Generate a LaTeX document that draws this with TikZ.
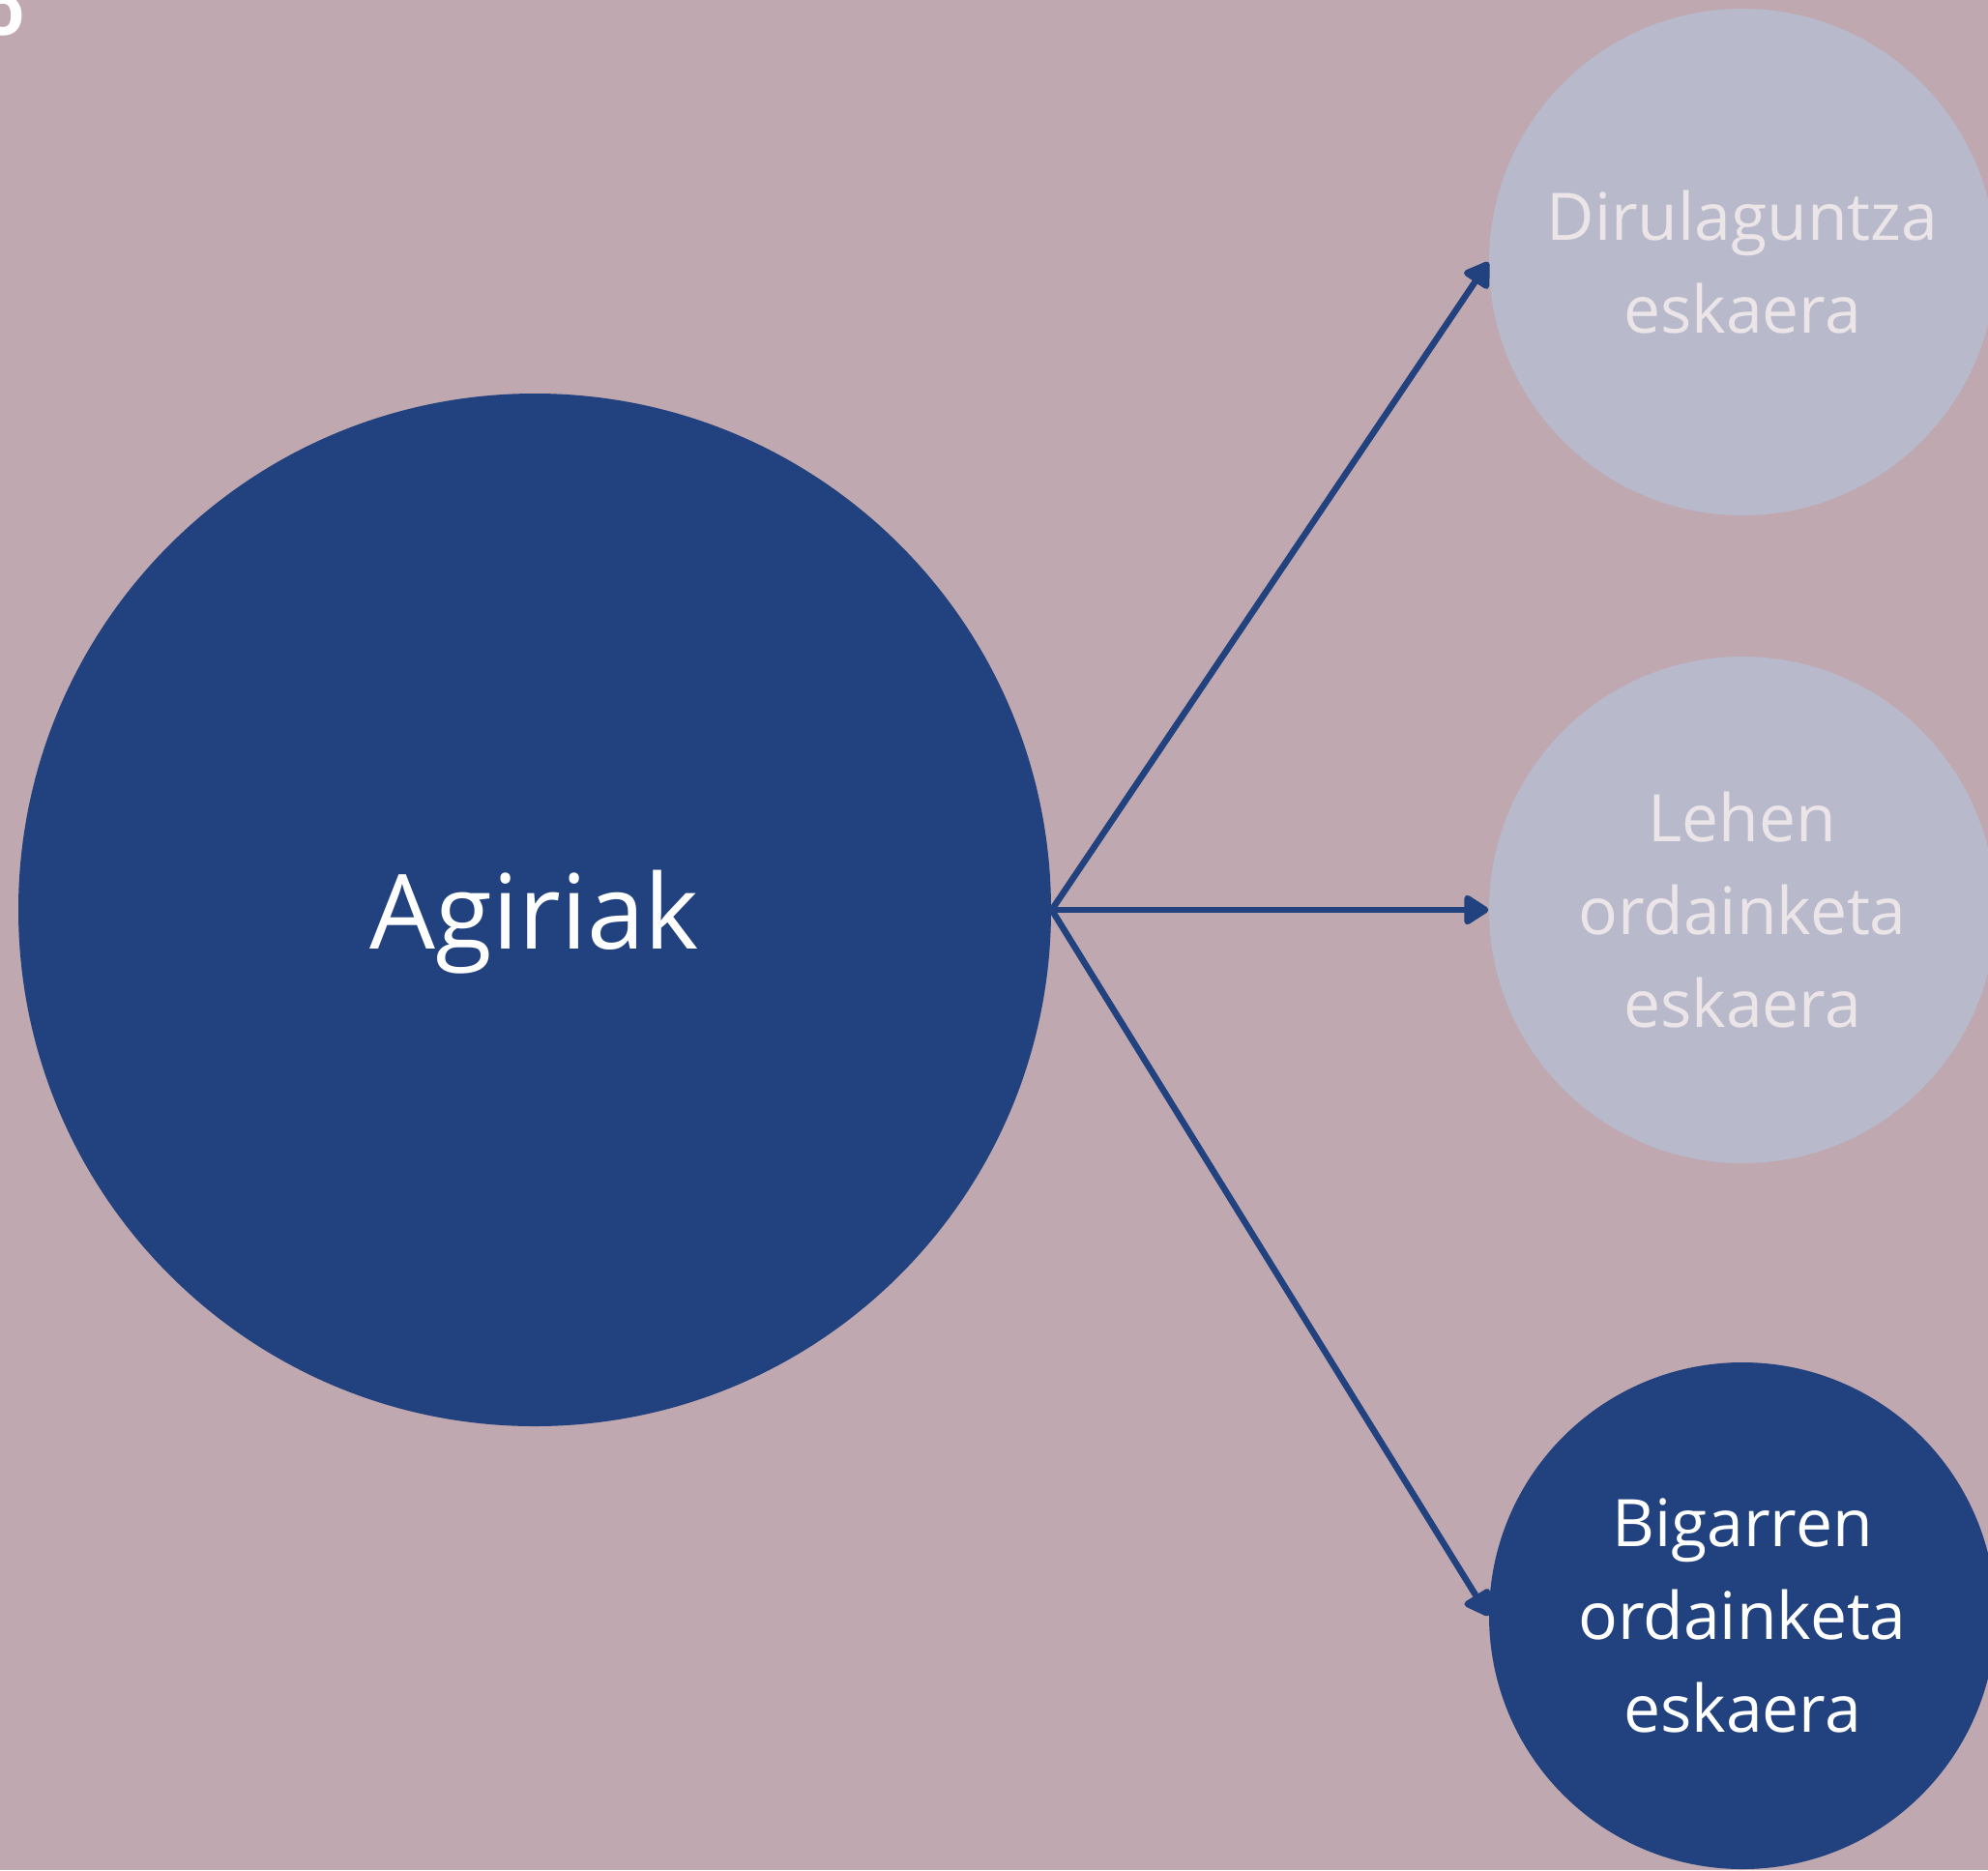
\documentclass[tikz,border=0pt]{standalone}
\usepackage{fontspec}
\setmainfont{Open Sans}
\usetikzlibrary{arrows.meta}
\usepackage{xcolor}
\definecolor{colorbfa8af}{HTML}{BFA8AF}
\definecolor{color21417f}{HTML}{21417F}
\definecolor{colorb8b9cb}{HTML}{B8B9CB}
\definecolor{colorebe5e8}{HTML}{EBE5E8}

\begin{document}
\begin{tikzpicture}
    [>={Triangle[length=0.28cm, width=0.34cm, round]},
     bubble/.style={shape=circle, inner sep=0, align=center, font=\fontsize{19.3}{27.3}\selectfont},
     link/.style={->, draw=color21417f, line width=0.065cm},
    ]

\clip (0,0) rectangle (20.56,-19.34);
\fill[colorbfa8af] (0,0) rectangle (20.56,-19.34);

% cut-off glyph in the top left corner
\node[inner sep=0, text=white, font=\fontsize{21}{25}\selectfont\bfseries] (node_corner) at (0.03,-0.16) {o};

\node[bubble, fill=color21417f, minimum size=10.68cm, text=white, text depth=0pt, font=\fontsize{30.5}{36}\selectfont] (node_agiriak) at (5.53,-9.41) {Agiriak};
\node[bubble, fill=colorb8b9cb, minimum size=5.24cm, text=colorebe5e8] (node_diru) at (18.02,-2.71) {Dirulaguntza\\eskaera};
\node[bubble, fill=colorb8b9cb, minimum size=5.24cm, text=colorebe5e8] (node_lehen) at (18.02,-9.41) {Lehen\\ordainketa\\eskaera};
\node[bubble, fill=color21417f, minimum size=5.24cm, text=white] (node_bigarren) at (18.02,-16.71) {Bigarren\\ordainketa\\eskaera};

\draw[link] (node_agiriak.east) -- (node_diru.west);
\draw[link] (node_agiriak.east) -- (node_lehen.west);
\draw[link] (node_agiriak.east) -- (node_bigarren.west);

\end{tikzpicture}
\end{document}
